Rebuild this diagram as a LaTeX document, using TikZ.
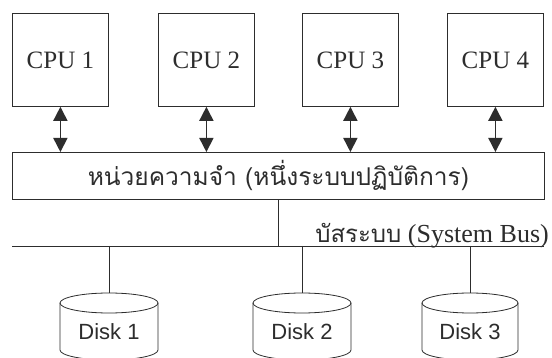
\documentclass[tikz,border=0pt]{standalone}
\usepackage{fontspec}
\setmainfont{Liberation Serif}
\setsansfont{Liberation Sans}
\newfontfamily\thaifont[Script=Thai]{Loma}
\usetikzlibrary{arrows.meta}

\definecolor{ink}{RGB}{45,45,45}

\tikzset{
  cpubox/.style={draw=ink, line width=0.8pt, anchor=north west,
    minimum width=96pt, minimum height=93pt, inner sep=0pt,
    text=ink, font=\fontsize{25}{25}\selectfont},
  membox/.style={draw=ink, line width=0.8pt, anchor=north west,
    minimum width=532pt, minimum height=47pt, inner sep=0pt,
    text=ink, font=\thaifont\fontsize{24.5}{24.5}\selectfont},
  link/.style={draw=ink, line width=1.6pt,
    {Triangle[length=14pt,width=14pt]}-{Triangle[length=14pt,width=14pt]}},
  wire/.style={draw=ink, line width=0.8pt},
  disklbl/.style={text=ink, inner sep=0pt, font=\sffamily\fontsize{22}{22}\selectfont}
}

\begin{document}
\begin{tikzpicture}[x=1pt,y=-1pt]
\useasboundingbox[fill=white] (0,0) rectangle (552,358);

% processors
\node[cpubox] (c1) at (12,13) {CPU 1};
\node[cpubox] (c2) at (158,13) {CPU 2};
\node[cpubox] (c3) at (302,13) {CPU 3};
\node[cpubox] (c4) at (447,13) {CPU 4};

% shared memory
\node[membox] (mem) at (12,152) {หน่วยความจำ (หนึ่งระบบปฏิบัติการ)};

\foreach \c in {c1,c2,c3,c4}
  \draw[link] (\c.south) -- (\c.south |- mem.north);

% system bus
\coordinate (busL) at (12,246);
\coordinate (busR) at (544,246);
\draw[wire] (busL) -- (busR);
\draw[wire] (mem.south) -- (mem.south |- busL);
\node[anchor=base east, inner sep=0pt, text=ink,
      font=\fontsize{26}{26}\selectfont] (buslbl) at (549,243)
  {{\thaifont\fontsize{24}{24}\selectfont บัสระบบ} (System Bus)};

% disks
\foreach \n/\x/\r in {1/109/49, 2/302/49, 3/470/48}{
  \coordinate (d\n top) at (\x,293);
  \draw[wire] (\x-\r,303) -- (\x-\r,350)
    arc[start angle=180, end angle=360, x radius=\r pt, y radius=10pt]
    -- (\x+\r,303);
  \draw[wire] (\x,303) ellipse[x radius=\r pt, y radius=10pt];
  \node[disklbl] (d\n) at (\x,332) {Disk \n};
  \draw[wire] (d\n top |- busL) -- (d\n top);
}
\end{tikzpicture}
\end{document}
